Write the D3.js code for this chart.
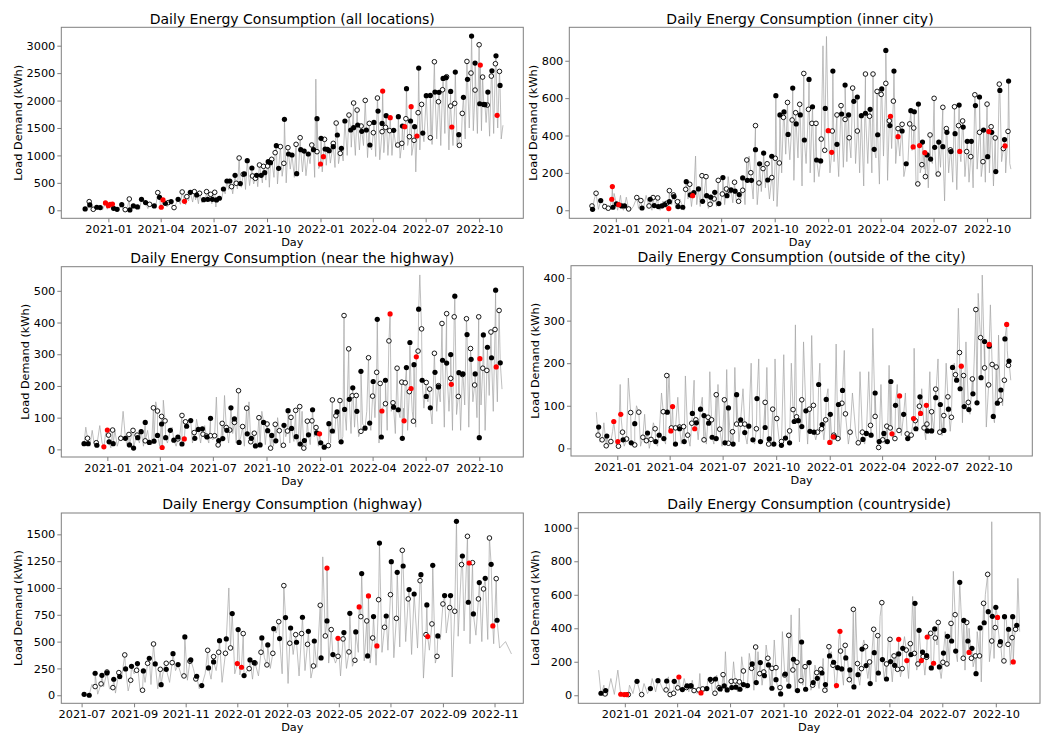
<!DOCTYPE html>
<html>
<head>
<meta charset="utf-8">
<script src="https://cdn.jsdelivr.net/npm/d3@7"></script>
<style>
  body { margin: 0; background: #fff; }
  svg { display: block; font-family: "DejaVu Sans", sans-serif; }
</style>
</head>
<body>
<svg id="chart" width="1042" height="734"></svg>
<script>
// days are counted from 2021-01-01, values in kWh
// marks: [day, value, type]  f = filled black, h = hollow, r = red

const titles = [
  "Daily Energy Consumption (all locations)",
  "Daily Energy Consumption (inner city)",
  "Daily Energy Consumption (near the highway)",
  "Daily Energy Consumption (outside of the city)",
  "Daily Energy Consumption (highway)",
  "Daily Energy Consumption (countryside)"
];

const quarterTicks = ["2021-01","2021-04","2021-07","2021-10","2022-01","2022-04","2022-07","2022-10"];
const bimonthTicks = ["2021-07","2021-09","2021-11","2022-01","2022-03","2022-05","2022-07","2022-09","2022-11"];

const yTicksAll = [0, 500, 1000, 1500, 2000, 2500, 3000];
const yTicksInner = [0, 200, 400, 600, 800];
const yTicksNear = [0, 100, 200, 300, 400, 500];
const yTicksOutside = [0, 100, 200, 300, 400];
const yTicksHwy = [0, 250, 500, 750, 1000, 1250, 1500];
const yTicksCountry = [0, 200, 400, 600, 800, 1000];

const allMarks = [[-40,24,'f'],[-33,158,'h'],[-32,97,'f'],[-26,18,'h'],[-20,55,'f'],[-14,49,'f'],[-5,134,'r'],[0,85,'r'],[3,110,'r'],[7,115,'r'],[9,36,'f'],[15,18,'f'],[23,103,'f'],[29,12,'h'],[36,206,'h'],[37,6,'f'],[43,79,'f'],[50,61,'f'],[57,200,'f'],[64,140,'f'],[71,109,'h'],[79,79,'f'],[85,322,'h'],[88,237,'f'],[91,55,'r'],[94,188,'r'],[98,127,'f'],[103,140,'h'],[108,158,'f'],[113,49,'h'],[120,200,'f'],[127,334,'h'],[131,164,'r'],[135,249,'h'],[141,328,'f'],[148,340,'h'],[152,279,'f'],[157,310,'h'],[164,194,'f'],[169,340,'h'],[171,200,'f'],[176,291,'h'],[179,200,'f'],[183,328,'h'],[186,188,'f'],[191,219,'f'],[198,388,'f'],[204,534,'f'],[209,534,'f'],[212,431,'h'],[218,637,'f'],[220,492,'h'],[225,953,'h'],[227,486,'f'],[232,656,'h'],[234,662,'f'],[239,904,'f'],[247,771,'f'],[248,625,'h'],[253,583,'h'],[255,637,'f'],[260,826,'h'],[263,637,'f'],[267,801,'h'],[269,686,'f'],[274,807,'h'],[275,886,'f'],[279,868,'f'],[281,929,'h'],[287,1050,'h'],[289,1178,'f'],[293,765,'f'],[296,1160,'h'],[302,856,'h'],[303,1657,'f'],[309,1141,'h'],[310,1026,'f'],[316,1008,'f'],[323,1202,'h'],[324,668,'f'],[330,1323,'h'],[331,1105,'f'],[337,1080,'f'],[344,1026,'f'],[350,1190,'h'],[353,1105,'f'],[359,1068,'h'],[359,1669,'f'],[365,844,'r'],[366,1311,'f'],[370,977,'r'],[372,1293,'h'],[373,1117,'f'],[377,1111,'f'],[380,1087,'f'],[387,1220,'h'],[387,1159,'f'],[392,1590,'h'],[394,1372,'f'],[399,1038,'h'],[401,1129,'f'],[407,1627,'f'],[414,1736,'h'],[417,1463,'f'],[422,1955,'h'],[422,1505,'f'],[428,1827,'h'],[429,1554,'f'],[435,1536,'h'],[436,1439,'f'],[442,2003,'h'],[444,1463,'f'],[449,1584,'h'],[450,1190,'f'],[456,1414,'h'],[457,1602,'f'],[463,2046,'h'],[464,1809,'f'],[471,1433,'h'],[471,1584,'f'],[472,2173,'r'],[477,1511,'h'],[478,1724,'f'],[484,1451,'h'],[485,1687,'r'],[491,1457,'f'],[498,1190,'h'],[499,1706,'f'],[505,1220,'h'],[506,1536,'f'],[510,1524,'r'],[512,1669,'h'],[513,2216,'f'],[518,1341,'h'],[520,1627,'f'],[521,1888,'r'],[526,1275,'h'],[527,1524,'f'],[531,1354,'r'],[533,1779,'h'],[534,2592,'f'],[539,1930,'h'],[541,1408,'f'],[547,2088,'f'],[554,1323,'h'],[554,2094,'f'],[561,2707,'h'],[562,2155,'f'],[568,1979,'h'],[569,2149,'f'],[575,2197,'h'],[576,2404,'f'],[581,2416,'f'],[582,2434,'h'],[589,2167,'f'],[589,1900,'h'],[591,1518,'r'],[596,1948,'h'],[597,2519,'f'],[603,1378,'f'],[604,1184,'h'],[609,1766,'h'],[611,2058,'f'],[617,2713,'h'],[618,2386,'f'],[624,2501,'h'],[625,3175,'f'],[631,2191,'h'],[631,2683,'f'],[638,3017,'h'],[639,1942,'f'],[640,2647,'r'],[644,2428,'h'],[646,1930,'f'],[648,1924,'f'],[652,1918,'h'],[653,2155,'f'],[659,2446,'h'],[660,2543,'f'],[666,2671,'h'],[667,2816,'f'],[669,1730,'r'],[673,2531,'h'],[674,2276,'f']];
const allLine = [[-43,60],[-36,10],[-29,120],[-22,0],[-15,90],[-10,10],[-2,20],[5,30],[12,0],[19,40],[26,0],[33,60],[40,20],[47,90],[54,20],[61,120],[68,30],[75,60],[82,100],[90,50],[96,120],[101,60],[110,90],[117,130],[124,110],[133,100],[138,170],[145,150],[150,190],[155,120],[161,140],[167,200],[174,150],[178,120],[185,60],[189,150],[195,200],[201,300],[207,380],[214,300],[222,390],[229,420],[236,380],[243,450],[250,480],[257,430],[265,500],[271,550],[277,420],[285,600],[291,480],[299,620],[306,500],[313,750],[320,600],[327,650],[334,700],[340,630],[347,850],[355,600],[357,2390],[362,760],[368,700],[375,820],[382,860],[390,780],[396,850],[404,900],[411,1000],[418,1150],[425,1000],[432,1100],[439,1180],[446,960],[453,1100],[460,980],[467,920],[474,1050],[481,1000],[488,1000],[495,1150],[502,950],[508,1100],[515,1180],[522,1000],[529,700],[536,1100],[543,1250],[550,1350],[557,1200],[565,1300],[572,1180],[579,1400],[586,1100],[593,1180],[600,1200],[607,1150],[614,1300],[621,1500],[628,1450],[635,1400],[642,1450],[650,1600],[656,1350],[663,1400],[670,1500],[676,1300],[679,1550]];

const innerMarks = [[-41,23,'h'],[-40,5,'f'],[-34,91,'h'],[-26,52,'f'],[-19,20,'h'],[-13,11,'h'],[-7,59,'r'],[-6,127,'r'],[-5,16,'f'],[1,34,'f'],[5,30,'r'],[10,23,'f'],[15,23,'f'],[22,7,'h'],[36,68,'h'],[43,52,'h'],[45,12,'f'],[57,23,'h'],[59,59,'f'],[64,68,'h'],[66,25,'f'],[72,66,'h'],[73,20,'f'],[79,23,'f'],[84,30,'f'],[87,37,'h'],[91,9,'r'],[92,105,'h'],[92,46,'f'],[99,82,'h'],[100,73,'f'],[106,46,'h'],[107,20,'f'],[115,16,'f'],[120,112,'h'],[121,153,'f'],[127,139,'h'],[128,82,'f'],[132,78,'r'],[134,94,'f'],[142,114,'f'],[148,185,'h'],[149,48,'f'],[155,180,'h'],[156,78,'f'],[162,32,'h'],[163,70,'f'],[169,61,'h'],[170,96,'f'],[176,160,'h'],[177,36,'f'],[183,87,'h'],[184,175,'f'],[190,114,'h'],[191,78,'f'],[196,105,'h'],[198,109,'f'],[204,150,'h'],[205,102,'f'],[211,48,'h'],[212,84,'f'],[218,107,'h'],[218,173,'f'],[225,269,'h'],[226,160,'f'],[232,201,'h'],[233,160,'f'],[240,453,'h'],[240,324,'f'],[246,146,'h'],[247,249,'f'],[253,223,'h'],[254,306,'f'],[260,249,'h'],[261,162,'f'],[268,175,'h'],[268,289,'f'],[274,278,'h'],[275,613,'f'],[281,253,'h'],[282,510,'f'],[288,497,'h'],[289,526,'f'],[295,577,'h'],[296,406,'f'],[303,483,'h'],[304,654,'f'],[309,522,'h'],[310,462,'f'],[316,567,'h'],[317,510,'f'],[323,732,'h'],[324,376,'f'],[331,540,'h'],[332,700,'f'],[337,465,'h'],[338,554,'f'],[344,465,'h'],[345,269,'f'],[352,264,'f'],[353,381,'h'],[359,321,'h'],[360,545,'f'],[365,426,'r'],[371,310,'r'],[372,424,'h'],[373,745,'f'],[380,510,'h'],[380,353,'f'],[387,560,'h'],[388,515,'f'],[394,486,'h'],[394,670,'f'],[400,510,'f'],[401,388,'h'],[407,654,'h'],[409,583,'f'],[415,424,'h'],[415,606,'f'],[422,506,'f'],[429,729,'h'],[429,519,'f'],[436,503,'h'],[437,540,'f'],[442,729,'h'],[444,326,'f'],[449,636,'h'],[450,404,'f'],[456,620,'h'],[457,649,'f'],[464,679,'h'],[464,855,'f'],[470,479,'h'],[471,453,'f'],[472,503,'r'],[477,584,'h'],[478,745,'f'],[485,437,'h'],[485,394,'r'],[492,460,'h'],[492,424,'f'],[499,249,'f'],[505,462,'h'],[507,533,'f'],[511,339,'r'],[512,440,'h'],[513,527,'f'],[519,141,'h'],[520,568,'f'],[522,346,'r'],[526,244,'h'],[527,365,'f'],[531,308,'r'],[532,180,'h'],[535,296,'f'],[540,403,'h'],[541,274,'f'],[547,599,'h'],[548,337,'f'],[554,194,'h'],[555,365,'f'],[562,551,'h'],[562,340,'f'],[568,437,'h'],[569,417,'f'],[575,323,'h'],[576,314,'f'],[582,554,'h'],[583,410,'f'],[589,453,'h'],[590,563,'f'],[591,315,'r'],[596,478,'h'],[597,445,'f'],[603,314,'h'],[604,369,'f'],[610,287,'h'],[611,369,'f'],[617,618,'h'],[618,560,'f'],[625,417,'h'],[625,606,'f'],[631,260,'h'],[632,429,'f'],[638,568,'h'],[639,287,'f'],[641,421,'r'],[645,447,'h'],[646,417,'f'],[652,387,'h'],[653,207,'f'],[659,675,'h'],[660,641,'f'],[666,330,'h'],[668,378,'f'],[669,344,'r'],[674,422,'h'],[675,691,'f']];
const innerLine = [[-43,10],[-37,60],[-30,5],[-22,40],[-16,0],[-10,20],[-3,90],[3,0],[8,80],[13,0],[18,70],[25,0],[30,20],[39,10],[48,20],[52,80],[62,0],[69,40],[76,0],[81,50],[89,0],[96,30],[103,10],[110,60],[117,0],[124,60],[130,20],[137,290],[139,30],[145,20],[152,90],[159,10],[166,30],[173,20],[180,40],[187,30],[193,180],[201,40],[207,50],[215,60],[222,30],[229,290],[236,60],[243,30],[250,100],[257,120],[264,60],[271,50],[277,20],[285,200],[292,300],[299,270],[306,160],[313,280],[320,130],[327,250],[334,200],[341,150],[349,180],[356,880],[362,930],[368,200],[375,260],[383,180],[391,230],[397,260],[404,280],[412,250],[419,200],[426,130],[433,250],[440,200],[447,280],[453,140],[460,290],[467,160],[474,330],[481,250],[488,290],[495,180],[502,250],[509,320],[516,140],[523,200],[530,220],[537,120],[544,250],[551,180],[558,230],[565,50],[572,200],[579,150],[586,110],[593,260],[600,180],[607,150],[614,120],[621,220],[628,180],[635,150],[642,200],[649,130],[656,220],[663,260],[670,200],[677,250],[679,220]];

const nearMarks = [[-40,18,'f'],[-34,35,'h'],[-33,18,'f'],[-19,21,'h'],[-18,13,'f'],[-6,8,'r'],[0,61,'r'],[2,45,'h'],[3,24,'f'],[9,61,'h'],[10,18,'f'],[23,35,'h'],[31,35,'f'],[37,47,'h'],[38,14,'f'],[44,60,'h'],[45,4,'f'],[51,45,'h'],[52,37,'f'],[58,56,'f'],[65,85,'f'],[65,27,'h'],[72,22,'f'],[79,131,'h'],[80,26,'f'],[86,121,'h'],[86,44,'f'],[93,104,'h'],[93,80,'f'],[94,6,'r'],[99,90,'h'],[100,37,'f'],[108,60,'f'],[114,29,'f'],[121,33,'h'],[121,39,'f'],[128,107,'h'],[128,17,'f'],[132,33,'r'],[134,87,'h'],[136,73,'f'],[143,91,'f'],[149,53,'h'],[150,35,'f'],[156,63,'f'],[163,65,'f'],[164,48,'h'],[170,42,'h'],[171,39,'f'],[177,98,'f'],[177,43,'h'],[184,43,'h'],[190,14,'h'],[191,28,'f'],[197,82,'h'],[198,34,'f'],[204,69,'h'],[205,60,'f'],[210,61,'h'],[212,131,'f'],[218,85,'h'],[218,96,'f'],[225,185,'h'],[226,22,'f'],[232,72,'h'],[239,130,'h'],[240,49,'f'],[246,24,'h'],[247,35,'f'],[252,51,'h'],[254,11,'f'],[260,100,'h'],[262,14,'f'],[268,85,'f'],[274,80,'h'],[275,59,'f'],[280,4,'h'],[282,44,'f'],[288,79,'h'],[289,27,'f'],[295,59,'h'],[302,13,'h'],[303,76,'f'],[309,58,'h'],[310,122,'f'],[315,101,'h'],[316,66,'f'],[323,123,'h'],[324,40,'f'],[330,135,'h'],[331,17,'f'],[337,4,'h'],[338,28,'f'],[343,89,'h'],[345,46,'f'],[351,90,'h'],[352,125,'f'],[358,69,'h'],[359,52,'f'],[364,49,'r'],[366,21,'f'],[372,7,'f'],[379,12,'h'],[380,81,'f'],[386,156,'h'],[386,58,'f'],[392,106,'h'],[394,118,'f'],[399,154,'h'],[401,24,'f'],[406,422,'h'],[407,126,'f'],[414,317,'h'],[415,158,'f'],[420,169,'h'],[421,194,'f'],[427,170,'h'],[428,120,'f'],[435,57,'h'],[435,246,'f'],[442,67,'f'],[448,289,'h'],[450,83,'f'],[455,168,'h'],[456,214,'f'],[462,243,'h'],[463,410,'f'],[468,208,'h'],[470,39,'f'],[471,121,'r'],[477,144,'h'],[477,218,'f'],[483,342,'h'],[485,427,'r'],[490,147,'h'],[491,133,'f'],[497,256,'h'],[499,125,'f'],[505,212,'h'],[506,35,'f'],[509,90,'r'],[511,210,'h'],[513,258,'f'],[518,182,'h'],[519,337,'f'],[521,192,'r'],[525,89,'h'],[526,267,'f'],[530,292,'r'],[533,310,'h'],[534,442,'f'],[539,380,'h'],[540,218,'f'],[547,211,'h'],[547,167,'f'],[553,190,'h'],[554,131,'f'],[561,303,'h'],[562,243,'f'],[568,201,'h'],[568,197,'f'],[574,397,'h'],[575,281,'f'],[582,428,'h'],[582,272,'f'],[589,224,'h'],[589,299,'f'],[590,205,'r'],[595,418,'h'],[596,483,'f'],[602,167,'h'],[603,242,'f'],[609,236,'h'],[610,238,'f'],[616,412,'h'],[617,362,'f'],[623,318,'h'],[624,284,'f'],[630,203,'h'],[631,238,'f'],[637,418,'h'],[638,37,'f'],[639,286,'r'],[644,256,'h'],[645,361,'f'],[651,249,'h'],[652,322,'f'],[658,370,'h'],[659,289,'f'],[665,378,'h'],[666,502,'f'],[667,260,'r'],[672,438,'h'],[674,273,'f']];
const nearLine = [[-43,20],[-37,70],[-30,10],[-26,60],[-22,10],[-13,75],[-9,20],[-3,50],[6,5],[13,60],[17,10],[20,30],[27,120],[34,10],[41,40],[48,30],[55,20],[62,10],[69,60],[76,15],[83,150],[90,10],[96,155],[103,20],[111,70],[118,10],[124,40],[131,20],[139,80],[146,20],[153,95],[160,20],[167,75],[174,20],[181,30],[187,165],[194,15],[201,170],[208,20],[215,50],[221,20],[229,40],[235,10],[243,150],[250,30],[257,20],[265,120],[271,15],[278,60],[285,10],[292,100],[298,5],[306,40],[313,20],[320,25],[327,10],[334,120],[341,10],[348,15],[355,40],[362,10],[369,20],[376,5],[383,20],[390,50],[397,30],[404,40],[410,60],[418,50],[424,70],[431,40],[438,80],[445,120],[452,60],[459,100],[466,20],[474,140],[480,60],[487,120],[494,50],[502,100],[508,130],[515,60],[523,120],[529,70],[536,550],[543,130],[550,150],[557,80],[565,120],[571,150],[578,70],[586,120],[592,60],[599,110],[606,60],[613,140],[620,70],[627,150],[634,100],[641,140],[648,60],[655,170],[662,120],[669,150],[677,190]];

const outsideMarks = [[-33,31,'h'],[-32,50,'f'],[-26,20,'h'],[-19,6,'h'],[-18,29,'f'],[-11,16,'h'],[-6,63,'r'],[1,16,'r'],[2,5,'h'],[6,80,'r'],[9,38,'h'],[10,20,'f'],[16,22,'h'],[23,84,'h'],[24,13,'f'],[30,8,'h'],[30,58,'f'],[37,85,'h'],[44,26,'h'],[50,18,'h'],[52,36,'f'],[58,21,'h'],[65,46,'h'],[66,16,'f'],[72,31,'f'],[79,86,'h'],[80,23,'f'],[85,171,'h'],[86,85,'f'],[92,41,'r'],[93,48,'h'],[95,98,'r'],[100,10,'f'],[100,48,'h'],[107,46,'f'],[107,50,'h'],[114,51,'h'],[115,16,'f'],[121,31,'h'],[128,59,'h'],[129,82,'f'],[133,46,'r'],[135,67,'h'],[136,60,'f'],[143,92,'f'],[149,20,'h'],[149,77,'f'],[156,73,'h'],[157,59,'f'],[162,67,'h'],[163,26,'f'],[170,126,'h'],[170,23,'f'],[176,45,'h'],[184,114,'h'],[185,13,'f'],[191,12,'h'],[191,95,'f'],[198,39,'h'],[199,10,'f'],[205,57,'h'],[205,126,'f'],[212,57,'h'],[212,67,'f'],[219,57,'h'],[219,37,'f'],[226,52,'f'],[233,20,'f'],[239,46,'h'],[240,117,'f'],[246,16,'f'],[254,108,'h'],[254,49,'f'],[260,10,'h'],[261,22,'f'],[267,92,'h'],[269,10,'f'],[274,70,'h'],[282,16,'h'],[282,7,'f'],[289,24,'f'],[296,41,'h'],[296,13,'f'],[302,91,'h'],[304,63,'f'],[308,74,'h'],[311,65,'f'],[317,114,'h'],[317,51,'f'],[324,88,'f'],[330,92,'h'],[331,40,'f'],[337,101,'h'],[338,38,'f'],[344,38,'h'],[346,150,'f'],[351,46,'h'],[352,56,'f'],[358,67,'h'],[359,115,'f'],[365,14,'r'],[366,80,'f'],[371,27,'r'],[372,31,'h'],[373,27,'f'],[379,23,'h'],[380,103,'f'],[386,106,'h'],[387,136,'f'],[392,81,'h'],[400,38,'h'],[414,13,'h'],[421,38,'h'],[422,21,'f'],[428,35,'f'],[435,54,'h'],[436,31,'f'],[443,75,'h'],[443,130,'f'],[449,2,'h'],[450,16,'f'],[456,20,'h'],[458,35,'f'],[463,52,'h'],[464,16,'f'],[469,48,'h'],[470,157,'f'],[472,34,'r'],[477,23,'h'],[478,101,'f'],[484,42,'h'],[485,123,'r'],[492,80,'f'],[498,34,'h'],[499,23,'f'],[505,31,'h'],[509,70,'r'],[512,65,'h'],[513,46,'f'],[519,99,'h'],[520,121,'f'],[521,82,'r'],[527,48,'h'],[531,101,'r'],[532,57,'h'],[533,41,'f'],[540,41,'f'],[540,86,'h'],[547,139,'h'],[547,119,'f'],[554,38,'h'],[555,103,'f'],[561,77,'h'],[561,42,'f'],[568,121,'h'],[569,92,'f'],[574,73,'h'],[576,190,'f'],[581,173,'h'],[583,160,'f'],[588,225,'h'],[589,140,'f'],[591,193,'r'],[595,171,'h'],[596,98,'f'],[603,108,'h'],[604,91,'f'],[610,163,'h'],[611,128,'f'],[616,326,'h'],[618,107,'f'],[624,260,'h'],[625,166,'f'],[631,189,'h'],[631,251,'f'],[638,149,'h'],[639,240,'f'],[639,244,'r'],[644,197,'h'],[646,75,'f'],[651,191,'h'],[653,106,'f'],[658,113,'h'],[659,137,'f'],[665,160,'h'],[666,257,'f'],[669,291,'r'],[672,195,'h'],[673,205,'f']];
const outsideLine = [[-36,85],[-30,15],[-23,60],[-15,5],[-8,40],[-2,10],[5,150],[12,5],[19,165],[27,10],[33,100],[40,5],[47,80],[55,0],[62,60],[69,5],[76,130],[83,10],[89,175],[97,5],[104,120],[110,10],[117,170],[125,5],[132,160],[139,20],[146,120],[153,10],[159,180],[166,10],[173,150],[180,5],[188,185],[195,10],[202,190],[209,15],[216,140],[223,10],[230,200],[236,10],[243,210],[250,15],[257,190],[264,5],[271,210],[278,20],[286,220],[292,30],[299,200],[306,290],[313,15],[320,250],[327,10],[334,265],[341,20],[348,200],[355,20],[362,140],[369,10],[376,245],[383,20],[390,230],[397,10],[404,130],[410,30],[417,180],[425,10],[432,180],[439,282],[446,20],[453,150],[460,10],[467,195],[474,20],[481,150],[488,30],[495,130],[502,20],[510,235],[516,40],[523,140],[530,20],[537,180],[544,40],[551,210],[558,30],[565,200],[572,40],[579,200],[586,329],[593,60],[599,250],[606,80],[613,200],[620,364],[627,407],[634,50],[641,337],[648,60],[655,266],[662,100],[670,230],[676,160]];

const hwyMarks = [[184,9,'f'],[190,0,'f'],[197,81,'h'],[197,205,'f'],[204,106,'h'],[205,186,'f'],[211,217,'h'],[211,208,'f'],[218,71,'h'],[219,149,'f'],[225,211,'h'],[226,174,'f'],[232,376,'h'],[233,245,'f'],[239,140,'h'],[240,270,'f'],[246,233,'h'],[247,295,'f'],[253,47,'h'],[254,227,'f'],[259,298,'h'],[261,345,'f'],[266,478,'h'],[268,292,'f'],[274,242,'h'],[275,99,'f'],[281,298,'h'],[281,242,'f'],[288,304,'h'],[289,388,'f'],[295,286,'f'],[302,180,'h'],[303,544,'f'],[309,317,'h'],[310,329,'f'],[316,152,'h'],[317,177,'f'],[323,90,'f'],[330,419,'h'],[331,255,'f'],[337,360,'h'],[337,311,'f'],[343,401,'h'],[344,509,'f'],[351,391,'h'],[352,525,'f'],[357,441,'h'],[359,761,'f'],[365,295,'r'],[366,612,'f'],[370,261,'r'],[372,575,'h'],[373,183,'f'],[379,248,'h'],[380,329,'f'],[385,304,'f'],[386,300,'h'],[393,401,'h'],[394,534,'f'],[400,283,'h'],[401,469,'f'],[407,391,'h'],[408,621,'f'],[414,686,'h'],[415,528,'f'],[420,1022,'h'],[422,724,'f'],[427,485,'h'],[428,627,'f'],[434,565,'h'],[435,494,'f'],[441,575,'h'],[442,727,'f'],[448,475,'h'],[449,596,'f'],[455,273,'h'],[456,506,'f'],[463,839,'h'],[464,348,'f'],[469,553,'h'],[471,693,'f'],[471,1186,'r'],[476,612,'h'],[478,379,'f'],[484,363,'h'],[484,531,'r'],[490,525,'h'],[491,584,'f'],[497,404,'h'],[498,764,'f'],[504,326,'h'],[505,590,'f'],[509,823,'r'],[511,733,'h'],[512,1134,'f'],[518,693,'h'],[519,367,'f'],[520,926,'r'],[525,534,'h'],[526,733,'f'],[530,460,'r'],[532,891,'h'],[533,1419,'f'],[539,634,'h'],[541,739,'f'],[546,938,'h'],[547,1245,'f'],[553,717,'h'],[554,1146,'f'],[560,1351,'h'],[561,1205,'f'],[567,898,'h'],[568,985,'f'],[574,944,'f'],[581,1068,'h'],[582,1124,'f'],[588,565,'h'],[589,842,'f'],[590,547,'r'],[595,665,'h'],[596,1211,'f'],[601,363,'h'],[602,553,'f'],[608,851,'h'],[610,929,'f'],[616,817,'h'],[617,929,'f'],[622,783,'h'],[624,1621,'f'],[630,1218,'h'],[631,1298,'f'],[637,1482,'h'],[638,867,'f'],[639,1233,'r'],[643,1236,'h'],[644,758,'f'],[650,898,'h'],[651,1050,'f'],[656,991,'h'],[658,1090,'f'],[663,1466,'h'],[665,1221,'f'],[667,646,'r'],[671,1087,'h'],[672,699,'f']];
const hwyLine = [[182,30],[187,0],[193,100],[200,10],[207,80],[214,60],[221,20],[228,150],[236,40],[243,200],[250,50],[256,120],[263,100],[271,60],[278,250],[285,120],[292,230],[299,180],[306,140],[313,250],[320,60],[327,200],[334,150],[340,230],[347,120],[355,1000],[362,200],[368,190],[376,220],[383,150],[390,180],[397,350],[404,250],[411,580],[418,200],[425,110],[431,380],[438,180],[445,230],[452,160],[459,260],[466,1290],[473,300],[481,300],[487,180],[494,250],[501,270],[508,400],[515,320],[522,300],[529,280],[536,400],[543,420],[550,350],[557,450],[564,500],[571,380],[578,440],[585,160],[592,420],[599,300],[605,520],[612,580],[619,170],[626,550],[633,600],[640,480],[647,560],[654,500],[661,520],[668,480],[675,440],[682,500],[689,385]];

const countryMarks = [[-41,12,'f'],[-34,8,'h'],[-33,28,'f'],[-7,6,'r'],[-1,4,'r'],[3,4,'r'],[6,4,'h'],[21,83,'f'],[29,4,'h'],[44,40,'f'],[57,87,'f'],[71,32,'h'],[72,85,'f'],[78,4,'h'],[84,12,'h'],[85,83,'f'],[91,44,'h'],[93,109,'r'],[99,34,'f'],[106,46,'h'],[107,56,'f'],[113,56,'h'],[114,56,'f'],[119,28,'h'],[127,32,'h'],[131,14,'r'],[134,38,'h'],[141,40,'f'],[147,95,'f'],[149,85,'h'],[155,12,'h'],[156,97,'f'],[162,46,'h'],[164,38,'f'],[169,123,'h'],[171,56,'f'],[176,32,'f'],[183,83,'h'],[184,46,'f'],[190,85,'h'],[191,48,'f'],[197,80,'h'],[198,36,'f'],[204,145,'h'],[204,64,'f'],[211,58,'f'],[218,161,'h'],[219,187,'f'],[225,288,'h'],[226,76,'f'],[232,129,'h'],[233,195,'f'],[239,139,'h'],[240,117,'f'],[246,221,'h'],[247,181,'f'],[253,161,'h'],[253,42,'f'],[260,165,'h'],[260,93,'f'],[267,46,'h'],[268,8,'f'],[275,121,'h'],[276,127,'f'],[282,358,'h'],[282,54,'f'],[289,151,'h'],[290,215,'f'],[296,197,'h'],[297,28,'f'],[303,87,'h'],[304,318,'f'],[310,171,'h'],[311,36,'f'],[317,195,'f'],[323,60,'h'],[324,76,'f'],[330,135,'h'],[331,101,'f'],[337,155,'h'],[339,133,'f'],[344,30,'h'],[345,64,'f'],[351,290,'h'],[352,235,'f'],[358,179,'h'],[359,197,'f'],[364,58,'r'],[366,165,'f'],[370,382,'r'],[371,264,'h'],[373,157,'f'],[379,298,'h'],[380,223,'f'],[386,93,'h'],[387,151,'f'],[393,513,'h'],[394,50,'f'],[400,189,'h'],[401,123,'f'],[407,159,'h'],[408,276,'f'],[414,290,'h'],[415,177,'f'],[421,199,'h'],[422,70,'f'],[428,394,'h'],[429,254,'f'],[435,356,'h'],[436,133,'f'],[442,553,'h'],[443,213,'f'],[450,187,'h'],[450,97,'f'],[456,334,'h'],[457,201,'f'],[463,235,'h'],[464,179,'f'],[469,155,'h'],[471,334,'r'],[471,247,'f'],[477,159,'h'],[478,280,'f'],[484,270,'h'],[485,207,'r'],[491,308,'h'],[492,243,'f'],[498,250,'h'],[499,549,'f'],[504,187,'h'],[506,388,'f'],[510,207,'r'],[512,258,'f'],[513,231,'h'],[519,237,'f'],[519,227,'h'],[520,348,'r'],[526,370,'h'],[527,163,'f'],[531,191,'r'],[533,396,'f'],[534,342,'h'],[539,435,'h'],[541,169,'f'],[547,197,'h'],[548,252,'f'],[554,187,'h'],[555,352,'f'],[561,429,'h'],[562,324,'f'],[568,481,'h'],[569,264,'f'],[576,674,'f'],[582,221,'h'],[583,447,'f'],[588,435,'h'],[590,324,'f'],[592,256,'r'],[596,221,'h'],[597,280,'f'],[603,235,'h'],[604,129,'f'],[610,235,'h'],[611,402,'f'],[617,549,'h'],[618,433,'f'],[624,722,'h'],[625,499,'f'],[631,324,'h'],[632,471,'f'],[637,404,'h'],[638,525,'f'],[641,465,'r'],[645,300,'h'],[646,320,'f'],[652,205,'h'],[653,469,'f'],[659,304,'h'],[660,394,'f'],[666,344,'h'],[667,469,'f'],[668,199,'r'],[672,394,'h'],[674,418,'f']];
const countryLine = [[-45,150],[-40,10],[-36,60],[-30,0],[-24,100],[-18,5],[-12,150],[-5,0],[0,10],[8,60],[14,10],[19,90],[26,20],[33,70],[39,10],[47,100],[53,20],[60,80],[66,30],[75,110],[81,20],[88,90],[96,30],[102,100],[110,20],[116,90],[124,10],[129,130],[136,20],[143,100],[150,30],[158,120],[166,20],[173,260],[180,30],[187,200],[194,20],[201,230],[208,40],[214,250],[222,30],[229,260],[236,60],[243,300],[250,50],[257,330],[264,30],[271,380],[279,80],[286,480],[293,20],[300,520],[306,60],[313,200],[320,30],[327,180],[334,40],[341,220],[348,20],[355,260],[362,40],[368,330],[376,60],[383,220],[390,70],[397,500],[404,60],[411,330],[418,100],[425,260],[432,80],[439,470],[446,100],[453,320],[460,80],[467,260],[474,110],[481,350],[488,100],[495,590],[502,150],[509,250],[516,120],[523,380],[530,150],[537,300],[544,100],[551,380],[558,200],[565,740],[572,200],[579,450],[585,150],[592,400],[599,170],[606,380],[613,80],[620,600],[627,200],[631,1036],[635,220],[642,400],[649,200],[656,450],[663,180],[670,350],[676,698],[679,380]];

// axis ranges (days from 2021-01-01 / kWh)
const xDomains = [[-81,714],[-80,713],[-79,713.5],[-79.5,713],[157,703],[-80,714]];
const yDomains = [[-146,3335],[-43,979],[-24,576],[-18,429],[-75,1699],[-48,1090]];

// plot frames: left, top, right, bottom
const frames = [
  [61.3, 27.3, 523.3, 218.3],
  [569.3, 27.3, 1030.7, 218.3],
  [61.3, 266.7, 523.3, 457],
  [571, 265.7, 1032.3, 456],
  [61.3, 513, 523.3, 703.3],
  [578.3, 512.7, 1040, 703.3]
];

const panels = [
  { marks: allMarks, line: allLine, yTicks: yTicksAll, xTicks: quarterTicks },
  { marks: innerMarks, line: innerLine, yTicks: yTicksInner, xTicks: quarterTicks },
  { marks: nearMarks, line: nearLine, yTicks: yTicksNear, xTicks: quarterTicks },
  { marks: outsideMarks, line: outsideLine, yTicks: yTicksOutside, xTicks: quarterTicks },
  { marks: hwyMarks, line: hwyLine, yTicks: yTicksHwy, xTicks: bimonthTicks },
  { marks: countryMarks, line: countryLine, yTicks: yTicksCountry, xTicks: quarterTicks }
];

const base = Date.UTC(2021, 0, 1);
const toDate = d => new Date(base + d * 86400000);
const parseMonth = d3.utcParse("%Y-%m");
const fmtMonth = d3.utcFormat("%Y-%m");

const markStyle = {
  h: { fill: "#fff", stroke: "#000", sw: 0.9, r: 2.3 },
  f: { fill: "#000", stroke: "none", sw: 0, r: 2.6 },
  r: { fill: "#ff0000", stroke: "none", sw: 0, r: 2.6 }
};

const svg = d3.select("#chart");
svg.append("rect").attr("width", 1042).attr("height", 734).attr("fill", "#fff");

panels.forEach((p, i) => {
  const [x0, y0, x1, y1] = frames[i];
  const x = d3.scaleUtc().domain(xDomains[i].map(toDate)).range([x0, x1]);
  const y = d3.scaleLinear().domain(yDomains[i]).range([y1, y0]);
  const g = svg.append("g");

  // daily line passes through the marked days and the days in between
  const pts = p.marks.map(m => [m[0], m[1]]).concat(p.line);
  pts.sort((a, b) => a[0] - b[0]);

  g.append("path")
    .datum(pts)
    .attr("d", d3.line().x(q => x(toDate(q[0]))).y(q => y(q[1])))
    .attr("fill", "none")
    .attr("stroke", "#a4a4a4")
    .attr("stroke-width", 0.7)
    .attr("stroke-linejoin", "round");

  ["h", "f", "r"].forEach(t => {
    const s = markStyle[t];
    g.selectAll(null)
      .data(p.marks.filter(m => m[2] === t))
      .join("circle")
      .attr("cx", m => x(toDate(m[0])))
      .attr("cy", m => y(m[1]))
      .attr("r", s.r)
      .attr("fill", s.fill)
      .attr("stroke", s.stroke)
      .attr("stroke-width", s.sw);
  });

  // frame
  g.append("rect")
    .attr("x", x0).attr("y", y0)
    .attr("width", x1 - x0).attr("height", y1 - y0)
    .attr("fill", "none")
    .attr("stroke", "#7f7f7f")
    .attr("stroke-width", 1);

  // x axis
  const xa = g.append("g")
    .attr("transform", `translate(0,${y1})`)
    .call(d3.axisBottom(x)
      .tickValues(p.xTicks.map(parseMonth))
      .tickFormat(fmtMonth)
      .tickSize(4)
      .tickPadding(2.7));
  xa.select(".domain").remove();

  // y axis
  const ya = g.append("g")
    .attr("transform", `translate(${x0},0)`)
    .call(d3.axisLeft(y)
      .tickValues(p.yTicks)
      .tickFormat(d3.format("d"))
      .tickSize(4)
      .tickPadding(2));
  ya.select(".domain").remove();

  [xa, ya].forEach(a => {
    a.attr("font-family", "DejaVu Sans").attr("font-size", 11.3);
    a.selectAll(".tick line").attr("stroke", "#7f7f7f");
    a.selectAll(".tick text").attr("fill", "#000");
  });

  const yaLeft = ya.node().getBBox().x + x0;

  g.append("text")
    .attr("x", (x0 + x1) / 2)
    .attr("y", y0 - 3.6)
    .attr("text-anchor", "middle")
    .attr("font-size", 14)
    .attr("fill", "#000")
    .text(titles[i]);

  g.append("text")
    .attr("x", (x0 + x1) / 2)
    .attr("y", y1 + 27.8)
    .attr("text-anchor", "middle")
    .attr("font-size", 11.3)
    .attr("fill", "#000")
    .text("Day");

  g.append("text")
    .attr("transform", `translate(${yaLeft - 4.8},${(y0 + y1) / 2}) rotate(-90)`)
    .attr("text-anchor", "middle")
    .attr("font-size", 11.3)
    .attr("fill", "#000")
    .text("Load Demand (kWh)");
});
</script>
</body>
</html>
